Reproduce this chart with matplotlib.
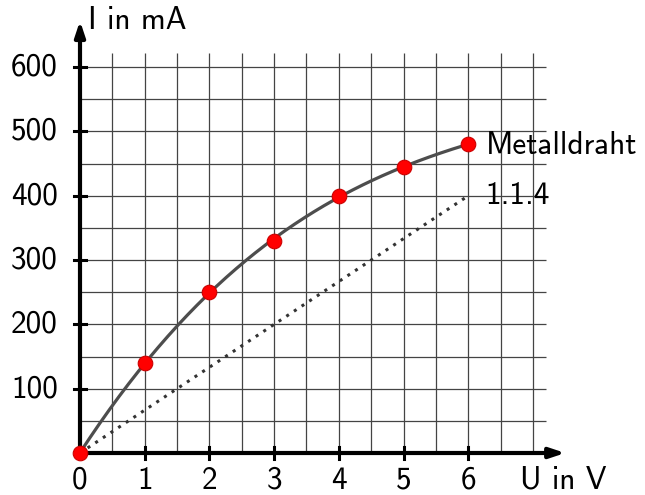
# current through a metal wire (Metalldraht) against voltage
import numpy as np
import matplotlib.pyplot as plt

# measured points
u_values = [0, 1, 2, 3, 4, 5, 6]
i_values = [0, 140, 250, 330, 400, 445, 480]

# straight comparison line (ohmic)
u_line = [0, 6]
i_line = [0, 400]

x_ticks = [0, 1, 2, 3, 4, 5, 6]
y_ticks = [100, 200, 300, 400, 500, 600]

font = "cmss10"
fs = 22.5

fig = plt.figure(figsize=(6.45, 4.95), dpi=100)
ax = fig.add_axes([0, 0, 1, 1])
# pixel mapping: origin at (80, 453) from top-left, 64.7 px per V, 0.643 px per mA
ax.set_xlim(-80 / 64.7, (645 - 80) / 64.7)
ax.set_ylim(-42 / 0.643, (495 - 42) / 0.643)
ax.axis("off")

# grid
grid_x = np.arange(0.5, 7.01, 0.5)
grid_y = np.arange(50, 601, 50)
ax.vlines(grid_x, 0, 622, color="#444444", lw=0.9, zorder=1)
ax.hlines(grid_y, 0, 7.2, color="#444444", lw=0.9, zorder=1)

# axes with arrows
ax.annotate("", xy=(7.5, 0), xytext=(-0.02, 0),
            arrowprops=dict(arrowstyle="-|>,head_length=0.9,head_width=0.3",
                            color="black", lw=3, shrinkA=0, shrinkB=0), zorder=3)
ax.annotate("", xy=(0, 672), xytext=(0, -2),
            arrowprops=dict(arrowstyle="-|>,head_length=0.9,head_width=0.3",
                            color="black", lw=3, shrinkA=0, shrinkB=0), zorder=3)

# ticks crossing the axes
for t in x_ticks[1:]:
    ax.plot([t, t], [-10, 10], color="black", lw=2.2, zorder=3)
for t in y_ticks:
    ax.plot([-0.1, 0.1], [t, t], color="black", lw=2.2, zorder=3)

for t in x_ticks:
    ax.text(t, -42, str(t), ha="center", va="center", fontsize=fs, family=font)
for t in y_ticks:
    ax.text(-0.34, t, str(t), ha="right", va="center", fontsize=fs, family=font)

ax.text(0.12, 672, "I in mA", ha="left", va="center", fontsize=fs, family=font)
ax.text(6.8, -42, "U in V", ha="left", va="center", fontsize=fs, family=font)

# fitted curve through the measurements
coef = np.polyfit(u_values, i_values, 3)
uu = np.linspace(0, 6, 200)
ax.plot(uu, np.polyval(coef, uu), color="#4d4d4d", lw=2.3, zorder=4)

# dotted comparison line
ax.plot(u_line, i_line, color="#333333", lw=2.2, ls=(0, (1, 2)), zorder=4)

ax.plot(u_values, i_values, "o", color="#ff0000", mec="#cc0000", ms=10.5,
        mew=0.8, zorder=5, clip_on=False)

ax.text(6.27, 479, "Metalldraht", ha="left", va="center", fontsize=fs, family=font)
ax.text(6.27, 401, "1.1.4", ha="left", va="center", fontsize=fs, family=font)

fig.savefig("out.png", dpi=100)
